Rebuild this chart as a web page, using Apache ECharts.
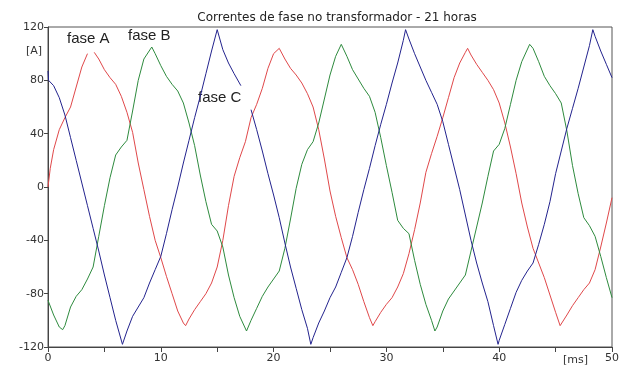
<!DOCTYPE html>
<html>
  <head>
    <title></title>
    <meta charset="UTF-8" />
    <script src="https://cdn.jsdelivr.net/npm/echarts@6/dist/echarts.min.js"></script>
  </head>
  <body style="margin:0">
    <div id="main"></div>
    <script>
      const width = 622;
      const height = 369;
      const main = document.getElementById('main');
      main.style.width = `${width}px`;
      main.style.height = `${height}px`;

      const titleText = 'Correntes de fase no transformador - 21 horas';
      const yTicks = [-120, -80, -40, 0, 40, 80, 120];
      const xTicks = [0, 10, 20, 30, 40, 50];

      // [ms, A]; '-' marks where the line is cut by a label
      const faseA = [
        [0, 0], [0.2, 14], [0.5, 28], [1, 43], [1.5, 52], [2, 60], [2.5, 75], [3, 90], [3.5, 100],
        [3.8, '-'], [4.1, 101], [4.5, 96], [5, 88], [5.5, 82], [6, 77], [6.5, 68], [7, 56], [7.5, 41],
        [8, 18], [8.5, -2], [9, -22], [9.5, -40], [10, -53], [10.5, -67], [11, -80], [11.5, -93],
        [12, -102], [12.2, -104], [12.5, -99], [13, -92], [13.5, -86], [14, -80], [14.5, -72],
        [15, -60], [15.5, -40], [16, -14], [16.5, 8], [17, 22], [17.5, 34], [18, 52], [18.5, 62],
        [19, 74], [19.5, 89], [20, 100], [20.5, 104], [21, 96], [21.5, 89], [22, 84], [22.5, 78],
        [23, 70], [23.5, 60], [24, 43], [24.5, 21], [25, -3], [25.5, -22], [26, -38], [26.5, -53],
        [27, -62], [27.5, -73], [28, -86], [28.5, -98], [28.8, -104], [29, -101], [29.5, -94],
        [30, -88], [30.5, -83], [31, -75], [31.5, -65], [32, -50], [32.5, -32], [33, -12],
        [33.5, 11], [34, 25], [34.5, 38], [35, 52], [35.5, 67], [36, 82], [36.5, 93], [37, 101],
        [37.2, 104], [37.5, 99], [38, 92], [38.5, 86], [39, 80], [39.5, 73], [40, 63], [40.5, 48],
        [41, 30], [41.5, 10], [42, -12], [42.5, -30], [43, -46], [43.5, -57], [44, -68],
        [44.5, -81], [45, -94], [45.4, -104], [45.5, -103], [46, -96], [46.5, -89], [47, -83],
        [47.5, -77], [48, -72], [48.5, -62], [49, -45], [49.5, -27], [50, -8]
      ];
      const faseB = [
        [0, -85], [0.5, -96], [1, -105], [1.3, -107], [1.5, -104], [2, -90], [2.5, -82], [3, -77],
        [3.5, -69], [4, -60], [4.5, -37], [5, -14], [5.5, 7], [6, 24], [6.5, 30], [7, 35],
        [7.5, 57], [8, 80], [8.5, 96], [9.2, 105], [9.5, 100], [10, 91], [10.5, 83], [11, 77],
        [11.5, 72], [12, 63], [12.5, 48], [13, 31], [13.5, 9], [14, -11], [14.5, -28], [15, -33],
        [15.5, -45], [16, -66], [16.5, -83], [17, -97], [17.6, -108], [18, -100], [18.5, -91],
        [19, -82], [19.5, -75], [20, -69], [20.5, -63], [21, -46], [21.5, -24], [22, -1],
        [22.5, 17], [23, 28], [23.5, 34], [24, 48], [24.5, 66], [25, 84], [25.5, 98], [26, 107],
        [26.5, 98], [27, 88], [27.5, 81], [28, 74], [28.5, 68], [29, 56], [29.5, 37], [30, 16],
        [30.5, -4], [31, -25], [31.5, -31], [32, -35], [32.5, -55], [33, -73], [33.5, -88],
        [34, -100], [34.3, -108], [34.5, -105], [35, -93], [35.5, -84], [36, -78], [36.5, -72],
        [37, -66], [37.5, -48], [38, -30], [38.5, -12], [39, 8], [39.5, 27], [40, 32], [40.5, 44],
        [41, 62], [41.5, 80], [42, 94], [42.7, 107], [43, 104], [43.5, 94], [44, 83], [44.5, 76],
        [45, 70], [45.5, 63], [46, 42], [46.5, 16], [47, -5], [47.5, -23], [48, -29], [48.5, -37],
        [49, -52], [49.5, -68], [50, -83]
      ];
      const faseC = [
        [0, 87], [0.05, 80], [0.5, 76], [1, 67], [1.5, 54], [2, 37], [2.5, 20], [3, 3], [3.5, -14],
        [4, -31], [4.5, -48], [5, -66], [5.5, -83], [6, -100], [6.6, -118], [7, -108], [7.5, -97],
        [8, -90], [8.5, -83], [9, -72], [9.5, -62], [10, -52], [10.5, -35], [11, -17], [11.5, 0],
        [12, 18], [12.5, 35], [13, 52], [13.5, 68], [14, 85], [14.5, 102], [15, 118], [15.5, 103],
        [16, 93], [16.5, 85], [17.1, 76], [17.5, '-'], [18, 58], [18.5, 43], [19, 27], [19.5, 10],
        [20, -6], [20.5, -23], [21, -42], [21.5, -60], [22, -76], [22.5, -92], [23, -106],
        [23.3, -118], [23.5, -113], [24, -102], [24.5, -93], [25, -83], [25.5, -75], [26, -64],
        [26.5, -53], [27, -37], [27.5, -19], [28, -2], [28.5, 14], [29, 31], [29.5, 47], [30, 62],
        [30.5, 78], [31, 93], [31.5, 110], [31.7, 118], [32, 111], [32.5, 100], [33, 90],
        [33.5, 80], [34, 71], [34.5, 62], [35, 49], [35.5, 32], [36, 15], [36.5, -2], [37, -21],
        [37.5, -40], [38, -57], [38.5, -72], [39, -86], [39.5, -104], [39.9, -118], [40, -115],
        [40.5, -103], [41, -91], [41.5, -79], [42, -70], [42.5, -63], [43, -57], [43.5, -43],
        [44, -28], [44.5, -11], [45, 10], [45.5, 27], [46, 44], [46.5, 59], [47, 74], [47.5, 90],
        [48, 106], [48.3, 118], [48.5, 113], [49, 102], [49.5, 92], [50, 82]
      ];

      const colors = ['#e0484a', '#2e8b3e', '#23238e'];
      const font = 'Liberation Sans, Arial, sans-serif';
      const wide = 'DejaVu Sans, sans-serif';

      const line = (name, data, color) => ({
        name: name,
        type: 'line',
        data: data,
        showSymbol: false,
        connectNulls: false,
        animation: false,
        lineStyle: { color: color, width: 1 },
        itemStyle: { color: color }
      });

      const myChart = echarts.init(main);
      const option = {
        backgroundColor: '#fff',
        animation: false,
        title: {
          text: titleText,
          left: 332,
          top: 7,
          textAlign: 'center',
          textStyle: { fontFamily: wide, fontSize: 12, fontWeight: 'normal', color: '#222' }
        },
        grid: {
          left: 48, right: 6, top: 27, bottom: 22,
          show: true, borderColor: '#555', borderWidth: 1
        },
        xAxis: {
          type: 'value',
          min: 0, max: 50, interval: 5,
          axisLine: { onZero: false, lineStyle: { color: '#444' } },
          axisTick: { length: 5, lineStyle: { color: '#444' } },
          splitLine: { show: false },
          axisLabel: {
            fontFamily: wide, fontSize: 11, color: '#333', margin: 6,
            formatter: v => (xTicks.includes(v) ? String(v) : '')
          }
        },
        yAxis: {
          type: 'value',
          min: yTicks[0], max: yTicks[yTicks.length - 1], interval: 40,
          axisLine: { show: true, onZero: false, lineStyle: { color: '#444' } },
          axisTick: { show: true, length: 4, lineStyle: { color: '#444' } },
          splitLine: { show: false },
          axisLabel: { fontFamily: wide, fontSize: 11, color: '#333', margin: 4 }
        },
        graphic: [
          { type: 'text', left: 26, top: 46, style: { text: '[A]', font: `11px ${wide}`, fill: '#333' } },
          { type: 'text', left: 563, top: 355, style: { text: '[ms]', font: `11px ${wide}`, fill: '#333' } },
          { type: 'text', left: 67, top: 31, style: { text: 'fase A', font: `15px ${font}`, fill: '#222' } },
          { type: 'text', left: 128, top: 28, style: { text: 'fase B', font: `15px ${font}`, fill: '#222' } },
          { type: 'text', left: 198, top: 90, style: { text: 'fase C', font: `15px ${font}`, fill: '#222' } }
        ],
        series: [
          line('fase A', faseA, colors[0]),
          line('fase B', faseB, colors[1]),
          line('fase C', faseC, colors[2])
        ]
      };
      myChart.setOption(option);
    </script>
  </body>
</html>
